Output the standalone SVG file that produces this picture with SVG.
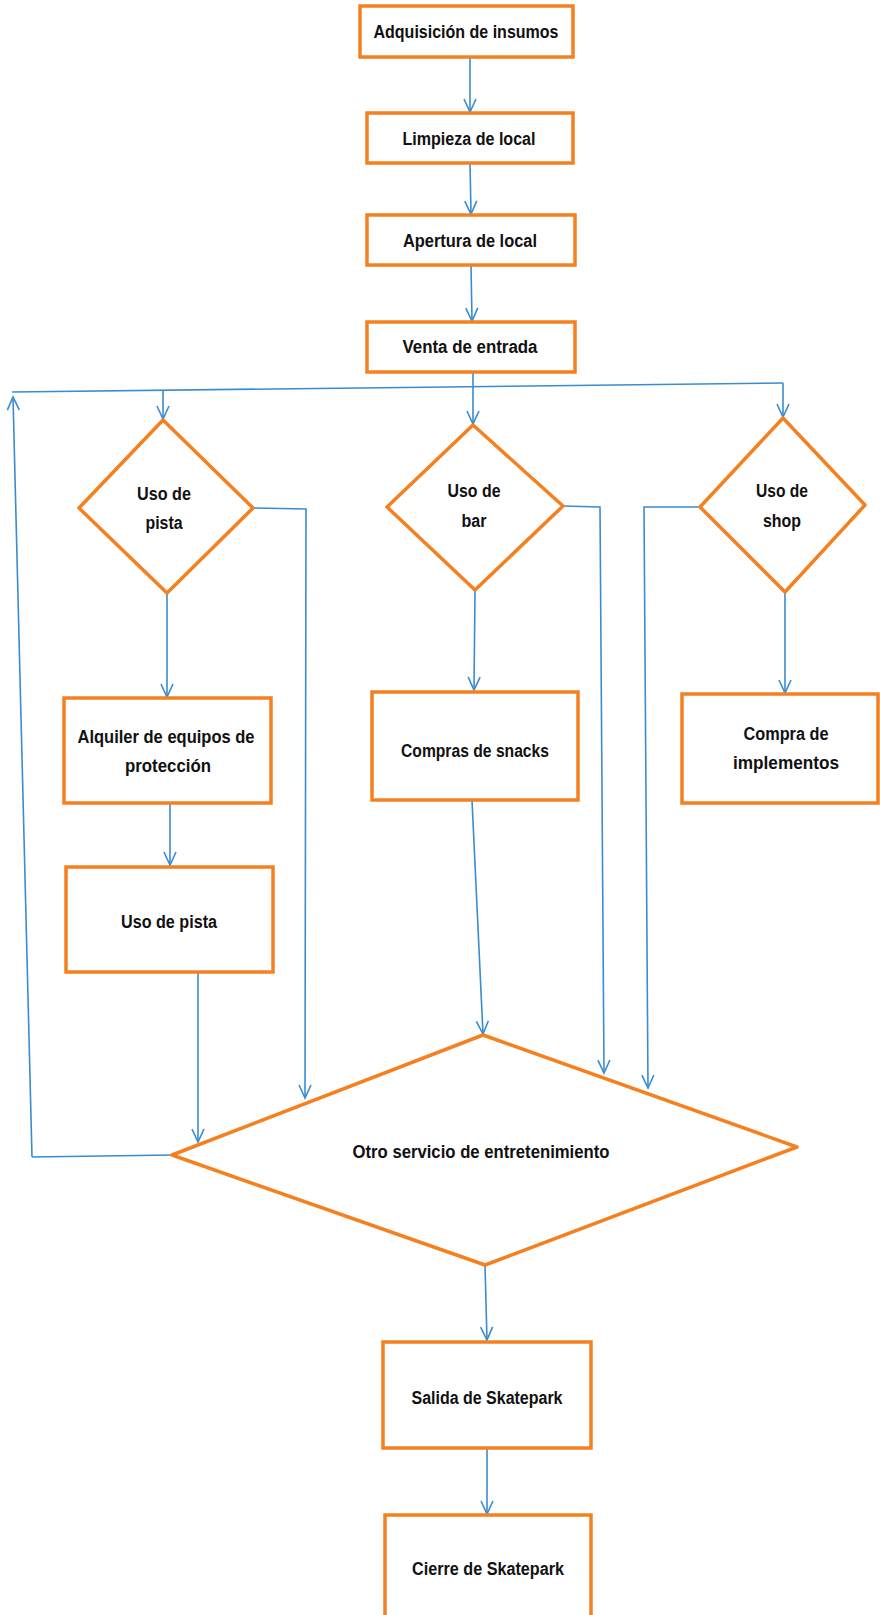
<svg xmlns="http://www.w3.org/2000/svg" width="880" height="1615" viewBox="0 0 880 1615">
<style>
.box{fill:#fff;stroke:#F4801F;stroke-width:3.5;stroke-linejoin:miter}
.dia{fill:#fff;stroke:#F4801F;stroke-width:3.5;stroke-linejoin:round}
.t{font-family:"Liberation Sans",Arial,sans-serif;font-size:18px;font-weight:bold;fill:#111;}
.c{fill:none;stroke:#3A8CD0;stroke-width:1.6}
.ca{fill:none;stroke:#3A8CD0;stroke-width:1.6;marker-end:url(#arr)}
</style>
<defs>
<marker id="arr" markerUnits="userSpaceOnUse" viewBox="-14 -8 16 16" markerWidth="16" markerHeight="16" refX="0" refY="0" orient="auto">
<path d="M-13,-6 L0,0 L-13,6" fill="none" stroke="#3A8CD0" stroke-width="1.6"/>
</marker>
</defs>
<rect width="880" height="1615" fill="#fff"/>

<g id="connectors">
<path class="ca" d="M470,57 L470,112"/>
<path class="ca" d="M470,163 L471,214"/>
<path class="ca" d="M471,265 L472,321"/>
<path class="ca" d="M473,372 L473,424"/>
<path class="c" d="M12,392 L783,383"/>
<path class="ca" d="M163,391 L163,419"/>
<path class="ca" d="M783,383 L783,417"/>
<path class="ca" d="M32,1157 L13,397"/>
<path class="c" d="M32,1157 L172,1155"/>
<path class="ca" d="M253,508 L306,509 L305,1098"/>
<path class="ca" d="M167,593 L167,697"/>
<path class="ca" d="M170,803 L170,865"/>
<path class="ca" d="M198,972 L198,1142"/>
<path class="ca" d="M563,506 L600,507 L604,1073"/>
<path class="ca" d="M475,590 L474,690"/>
<path class="ca" d="M472,800 L483,1034"/>
<path class="ca" d="M700,507 L644,507 L648,1088"/>
<path class="ca" d="M785,592 L785,693"/>
<path class="ca" d="M485,1265 L487,1340"/>
<path class="ca" d="M487,1448 L487,1514"/>
</g>

<g id="n1"><rect class="box" x="360" y="6" width="213" height="51"/>
<text class="t" x="466" y="38" text-anchor="middle" textLength="185" lengthAdjust="spacingAndGlyphs">Adquisición de insumos</text></g>
<g id="n2"><rect class="box" x="367" y="113" width="206" height="50"/>
<text class="t" x="469" y="145" text-anchor="middle" textLength="133" lengthAdjust="spacingAndGlyphs">Limpieza de local</text></g>
<g id="n3"><rect class="box" x="367" y="215" width="208" height="50"/>
<text class="t" x="470" y="247" text-anchor="middle" textLength="134" lengthAdjust="spacingAndGlyphs">Apertura de local</text></g>
<g id="n4"><rect class="box" x="367" y="322" width="208" height="50"/>
<text class="t" x="470" y="353" text-anchor="middle" textLength="135" lengthAdjust="spacingAndGlyphs">Venta de entrada</text></g>

<g id="d1"><polygon class="dia" points="163,420 253,508 167,593 79,508"/>
<text class="t" x="164" y="500" text-anchor="middle" textLength="54" lengthAdjust="spacingAndGlyphs">Uso de</text>
<text class="t" x="164" y="529" text-anchor="middle" textLength="37" lengthAdjust="spacingAndGlyphs">pista</text></g>
<g id="d2"><polygon class="dia" points="473,425 563,506 475,590 387,507"/>
<text class="t" x="474" y="497" text-anchor="middle" textLength="53" lengthAdjust="spacingAndGlyphs">Uso de</text>
<text class="t" x="474" y="527" text-anchor="middle" textLength="25" lengthAdjust="spacingAndGlyphs">bar</text></g>
<g id="d3"><polygon class="dia" points="783,418 865,505 785,592 700,507"/>
<text class="t" x="782" y="497" text-anchor="middle" textLength="52" lengthAdjust="spacingAndGlyphs">Uso de</text>
<text class="t" x="782" y="527" text-anchor="middle" textLength="38" lengthAdjust="spacingAndGlyphs">shop</text></g>

<g id="n5"><rect class="box" x="64" y="698" width="207" height="105"/>
<text class="t" x="166" y="743" text-anchor="middle" textLength="177" lengthAdjust="spacingAndGlyphs">Alquiler de equipos de</text>
<text class="t" x="168" y="772" text-anchor="middle" textLength="86" lengthAdjust="spacingAndGlyphs">protección</text></g>
<g id="n6"><rect class="box" x="66" y="867" width="207" height="105"/>
<text class="t" x="169" y="928" text-anchor="middle" textLength="96" lengthAdjust="spacingAndGlyphs">Uso de pista</text></g>
<g id="n7"><rect class="box" x="372" y="692" width="206" height="108"/>
<text class="t" x="475" y="757" text-anchor="middle" textLength="148" lengthAdjust="spacingAndGlyphs">Compras de snacks</text></g>
<g id="n8"><rect class="box" x="682" y="694" width="196" height="109"/>
<text class="t" x="786" y="740" text-anchor="middle" textLength="85" lengthAdjust="spacingAndGlyphs">Compra de</text>
<text class="t" x="786" y="769" text-anchor="middle" textLength="106" lengthAdjust="spacingAndGlyphs">implementos</text></g>

<g id="d4"><polygon class="dia" points="483,1035 797,1147 485,1265 172,1155"/>
<text class="t" x="481" y="1158" text-anchor="middle" textLength="257" lengthAdjust="spacingAndGlyphs">Otro servicio de entretenimiento</text></g>

<g id="n9"><rect class="box" x="383" y="1342" width="208" height="106"/>
<text class="t" x="487" y="1404" text-anchor="middle" textLength="151" lengthAdjust="spacingAndGlyphs">Salida de Skatepark</text></g>
<g id="n10"><rect class="box" x="385" y="1515" width="206" height="106"/>
<text class="t" x="488" y="1575" text-anchor="middle" textLength="152" lengthAdjust="spacingAndGlyphs">Cierre de Skatepark</text></g>
</svg>
